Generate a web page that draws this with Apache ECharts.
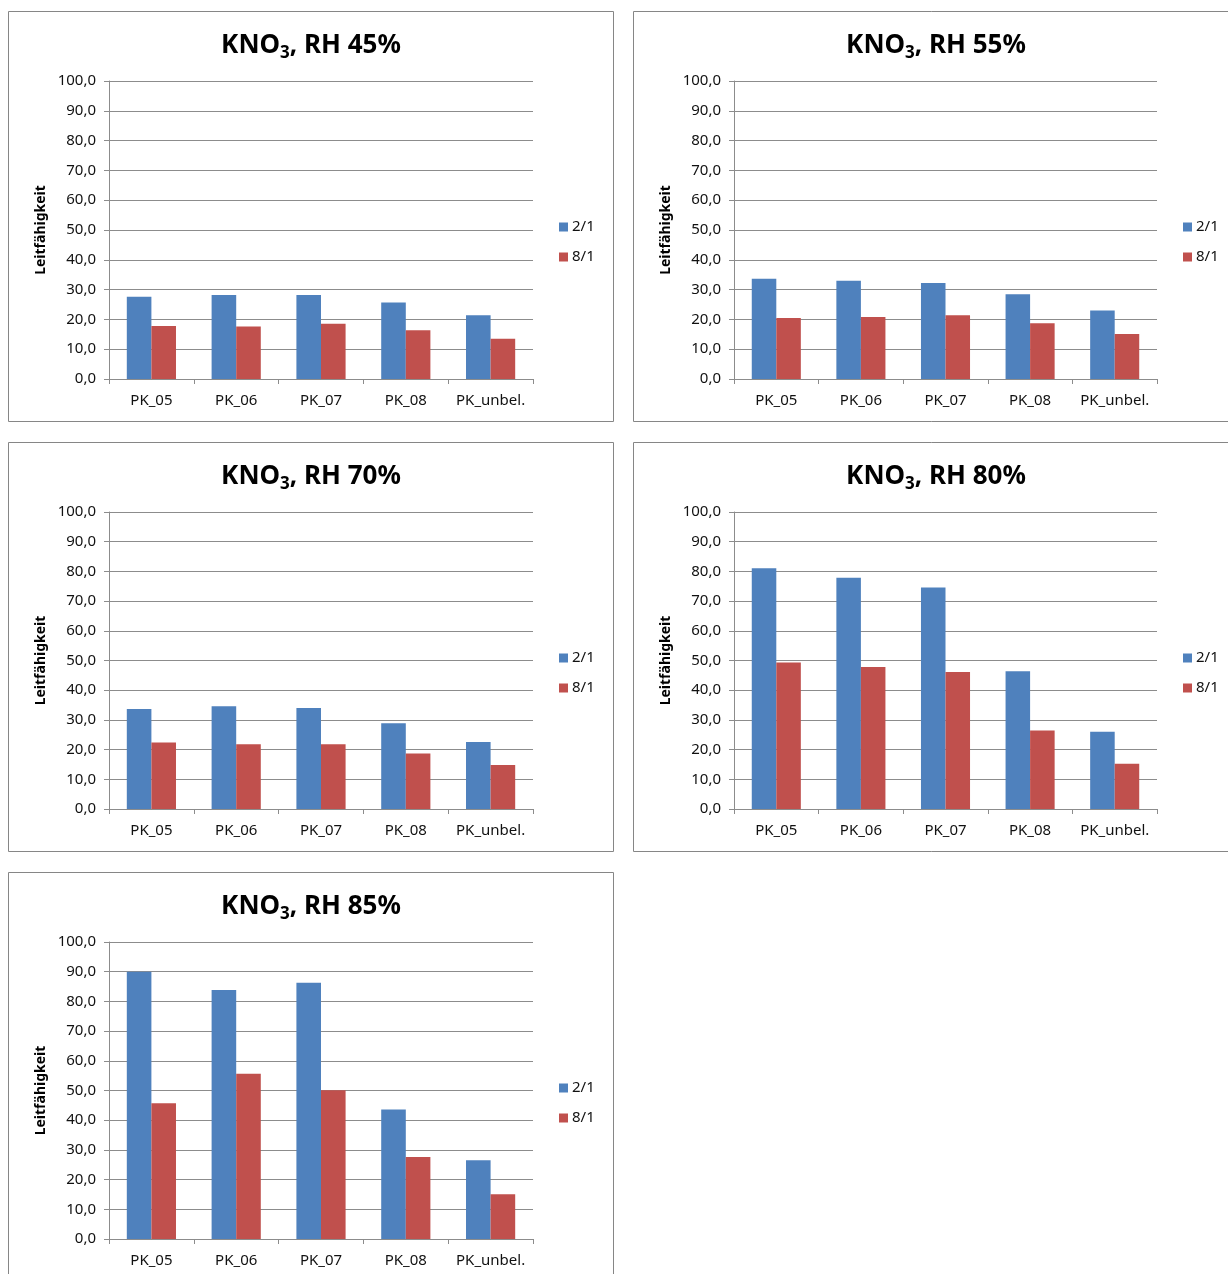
<!DOCTYPE html>
<html>
<head>
<meta charset="utf-8">
<script src="https://cdn.jsdelivr.net/npm/echarts@6/dist/echarts.min.js"></script>
<style>
  html, body { margin: 0; padding: 0; background: #fff; }
  #chart { width: 1228px; height: 1274px; }
</style>
</head>
<body>
<div id="chart"></div>
<script>
// Leitfähigkeit of KNO3 samples at different relative humidities
const categories = ['PK_05', 'PK_06', 'PK_07', 'PK_08', 'PK_unbel.'];
const seriesNames = ['2/1', '8/1'];
const humidityLabels = ['45%', '55%', '70%', '80%', '85%'];
const yTicks = [0, 10, 20, 30, 40, 50, 60, 70, 80, 90, 100];

const rh45_21 = [27.6, 28.2, 28.2, 25.7, 21.4];
const rh45_81 = [17.8, 17.6, 18.5, 16.4, 13.5];
const rh55_21 = [33.6, 33.0, 32.2, 28.4, 23.0];
const rh55_81 = [20.5, 20.8, 21.4, 18.7, 15.1];
const rh70_21 = [33.7, 34.6, 34.0, 28.9, 22.6];
const rh70_81 = [22.4, 21.8, 21.8, 18.7, 14.8];
const rh80_21 = [81.1, 77.9, 74.6, 46.4, 26.0];
const rh80_81 = [49.3, 47.8, 46.1, 26.4, 15.2];
const rh85_21 = [90.0, 83.8, 86.3, 43.6, 26.5];
const rh85_81 = [45.7, 55.6, 50.1, 27.6, 15.1];

const panelData = [
  [rh45_21, rh45_81],
  [rh55_21, rh55_81],
  [rh70_21, rh70_81],
  [rh80_21, rh80_81],
  [rh85_21, rh85_81]
];

// panel frames: [x, y, w, h]
const frames = [
  [8.5, 11.5, 605, 410],
  [633.5, 11.5, 605, 410],
  [8.5, 442.5, 605, 409],
  [633.5, 442.5, 605, 409],
  [8.5, 872.5, 605, 410]
];
// plot areas: [left, top, width, height]
const plots = [
  [109, 81, 424, 298],
  [734, 81, 423, 298],
  [109, 512, 424, 297],
  [734, 512, 423, 297],
  [109, 942, 424, 297]
];

const colors = ['#4F81BD', '#C0504D'];
const gridColor = '#8c8c8c';
const textColor = '#111111';
const font = '"Noto Sans", "Open Sans", sans-serif';

const option = {
  animation: false,
  backgroundColor: '#ffffff',
  color: colors,
  title: [],
  legend: [],
  grid: [],
  xAxis: [],
  yAxis: [],
  series: [],
  graphic: []
};

plots.forEach((p, i) => {
  const [left, top, width, height] = p;
  const fr = frames[i];
  option.graphic.push({
    type: 'rect',
    z: -10,
    shape: { x: fr[0], y: fr[1], width: fr[2], height: fr[3] },
    style: { fill: '#ffffff', stroke: '#868686', lineWidth: 1 }
  });
  option.title.push({
    text: '{a|KNO}{s|3}{a|, RH ' + humidityLabels[i] + '}',
    left: fr[0] + fr[2] / 2,
    top: top - 51,
    textAlign: 'center',
    padding: 0,
    textStyle: {
      rich: {
        a: { fontFamily: font, fontSize: 26, fontWeight: 'bold', color: '#000', lineHeight: 32 },
        s: { fontFamily: font, fontSize: 17, fontWeight: 'bold', color: '#000', lineHeight: 17, verticalAlign: 'bottom' }
      }
    }
  });
  option.legend.push({
    data: seriesNames,
    orient: 'vertical',
    left: left + width + 26,
    top: top + 138,
    itemWidth: 9,
    itemHeight: 9,
    itemGap: 14,
    padding: 0,
    icon: 'rect',
    textStyle: { fontFamily: font, fontSize: 15, color: textColor, lineHeight: 16, padding: [0, 0, 0, -1] }
  });
  option.grid.push({ left: left, top: top, width: width, height: height, containLabel: false });
  option.xAxis.push({
    type: 'category',
    gridIndex: i,
    data: categories,
    axisLine: { lineStyle: { color: gridColor } },
    axisTick: { show: true, length: 5, lineStyle: { color: gridColor } },
    axisLabel: { fontFamily: font, fontSize: 15, color: textColor, margin: 14, interval: 0, hideOverlap: false }
  });
  option.yAxis.push({
    type: 'value',
    gridIndex: i,
    min: yTicks[0],
    max: yTicks[yTicks.length - 1],
    interval: yTicks[1] - yTicks[0],
    name: 'Leitfähigkeit',
    nameLocation: 'middle',
    nameGap: 61,
    nameTextStyle: { fontFamily: font, fontSize: 14, fontWeight: 'bold', color: '#000' },
    axisLine: { show: true, lineStyle: { color: gridColor } },
    axisTick: { show: true, length: 5, lineStyle: { color: gridColor } },
    splitLine: { show: true, lineStyle: { color: gridColor, width: 1 } },
    axisLabel: {
      fontFamily: font, fontSize: 15, color: textColor, margin: 13,
      formatter: v => v.toFixed(1).replace('.', ',')
    }
  });
  panelData[i].forEach((vals, k) => {
    option.series.push({
      type: 'bar',
      name: seriesNames[k],
      xAxisIndex: i,
      yAxisIndex: i,
      data: vals,
      barGap: '0%',
      barCategoryGap: '42%',
      itemStyle: { color: colors[k] }
    });
  });
});

const chart = echarts.init(document.getElementById('chart'), null, { renderer: 'canvas' });
chart.setOption(option);
</script>
</body>
</html>
